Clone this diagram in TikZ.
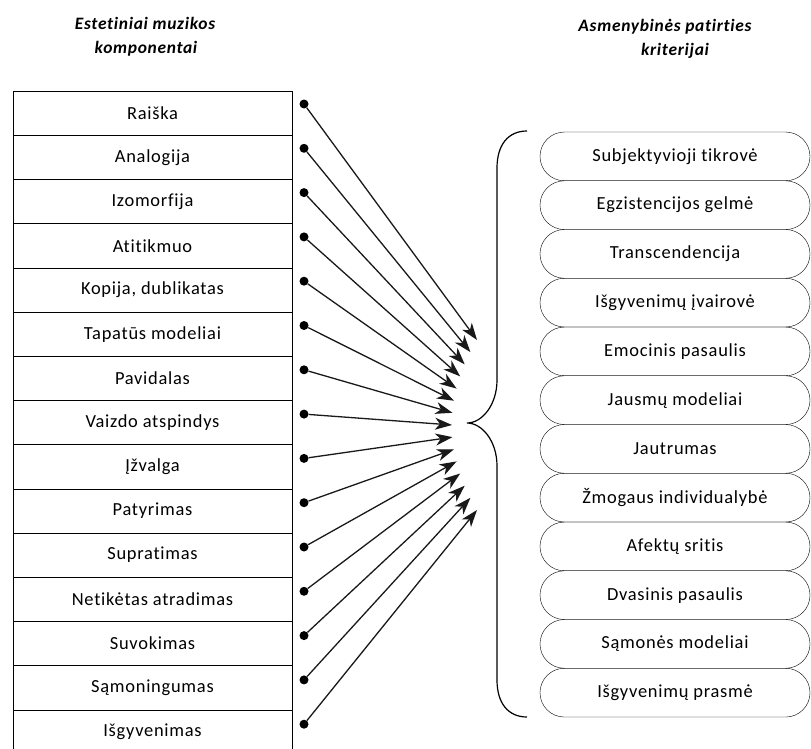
\documentclass[tikz,border=0pt]{standalone}
\usepackage{fontspec}
\setmainfont{Carlito}[LetterSpace=4, Ligatures=NoCommon]
\usetikzlibrary{positioning,arrows.meta,shapes.misc}

\tikzset{
  comp/.style = {draw, minimum width=279bp, minimum height=44.2bp, inner sep=0pt, outer sep=0pt, font=\fontsize{18.5}{20}\selectfont},
  krit/.style = {draw, rounded rectangle, minimum width=270bp, minimum height=48.75bp, inner sep=0pt, outer sep=0pt, font=\fontsize{18.5}{20}\selectfont},
  dot/.style = {circle, fill, inner sep=0pt, minimum size=9bp},
  arr/.style = {-{Stealth[length=17bp,width=12bp,inset=5bp]}, line width=1.3bp, black!90},
  title/.style = {font=\fontsize{17.5}{20}\selectfont\bfseries\itshape}
}

\begin{document}
\begin{tikzpicture}[x=1bp, y=-1bp]
\useasboundingbox (0,0) rectangle (811,749);

% titles
\node[title] (tl1) at (145,23) {Estetiniai muzikos};
\node[title] (tl2) at (146,49) {komponentai};
\node[title] (tr1) at (665,27) {Asmenybinės patirties};
\node[title] (tr2) at (675,51) {kriterijai};

% components
\node[comp] (k1) at (152.5,113.1) {Raiška};
\node[comp] (k2) [below=0bp of k1] {Analogija};
\node[comp] (k3) [below=0bp of k2] {Izomorfija};
\node[comp] (k4) [below=0bp of k3] {Atitikmuo};
\node[comp] (k5) [below=0bp of k4] {Kopija, dublikatas};
\node[comp] (k6) [below=0bp of k5] {Tapatūs modeliai};
\node[comp] (k7) [below=0bp of k6] {Pavidalas};
\node[comp] (k8) [below=0bp of k7] {Vaizdo atspindys};
\node[comp] (k9) [below=0bp of k8] {Įžvalga};
\node[comp] (k10) [below=0bp of k9] {Patyrimas};
\node[comp] (k11) [below=0bp of k10] {Supratimas};
\node[comp] (k12) [below=0bp of k11] {Netikėtas atradimas};
\node[comp] (k13) [below=0bp of k12] {Suvokimas};
\node[comp] (k14) [below=0bp of k13] {Sąmoningumas};
\node[comp] (k15) [below=0bp of k14] {Išgyvenimas};

% criteria
\node[krit] (c1) at (675,156.4) {Subjektyvioji tikrovė};
\node[krit] (c2) [below=0bp of c1] {Egzistencijos gelmė};
\node[krit] (c3) [below=0bp of c2] {Transcendencija};
\node[krit] (c4) [below=0bp of c3] {Išgyvenimų įvairovė};
\node[krit] (c5) [below=0bp of c4] {Emocinis pasaulis};
\node[krit] (c6) [below=0bp of c5] {Jausmų modeliai};
\node[krit] (c7) [below=0bp of c6] {Jautrumas};
\node[krit] (c8) [below=0bp of c7] {Žmogaus individualybė};
\node[krit] (c9) [below=0bp of c8] {Afektų sritis};
\node[krit] (c10) [below=0bp of c9] {Dvasinis pasaulis};
\node[krit] (c11) [below=0bp of c10] {Sąmonės modeliai};
\node[krit] (c12) [below=0bp of c11] {Išgyvenimų prasmė};

% dots
\node[dot] (d1) at (304,104) {};
\node[dot] (d2) at (304,148.3) {};
\node[dot] (d3) at (304,192.6) {};
\node[dot] (d4) at (304,236.9) {};
\node[dot] (d5) at (304,281.2) {};
\node[dot] (d6) at (304,325.5) {};
\node[dot] (d7) at (304,369.8) {};
\node[dot] (d8) at (304,414.1) {};
\node[dot] (d9) at (304,458.4) {};
\node[dot] (d10) at (304,502.7) {};
\node[dot] (d11) at (304,547) {};
\node[dot] (d12) at (304,591.3) {};
\node[dot] (d13) at (304,635.6) {};
\node[dot] (d14) at (304,679.9) {};
\node[dot] (d15) at (304,724.2) {};

% arrow ends
\coordinate (t1) at (477,340);
\coordinate (t2) at (470.4,352.1);
\coordinate (t3) at (464.7,364.3);
\coordinate (t4) at (460.2,376.4);
\coordinate (t5) at (456.6,388.6);
\coordinate (t6) at (454,400.7);
\coordinate (t7) at (452.5,412.8);
\coordinate (t8) at (452,425);
\coordinate (t9) at (452.5,437.1);
\coordinate (t10) at (454,449.3);
\coordinate (t11) at (456.6,461.4);
\coordinate (t12) at (460.2,473.5);
\coordinate (t13) at (464.7,485.7);
\coordinate (t14) at (470.4,497.8);
\coordinate (t15) at (477,510);

\draw[arr] (d1) -- (t1);
\draw[arr] (d2) -- (t2);
\draw[arr] (d3) -- (t3);
\draw[arr] (d4) -- (t4);
\draw[arr] (d5) -- (t5);
\draw[arr] (d6) -- (t6);
\draw[arr] (d7) -- (t7);
\draw[arr] (d8) -- (t8);
\draw[arr] (d9) -- (t9);
\draw[arr] (d10) -- (t10);
\draw[arr] (d11) -- (t11);
\draw[arr] (d12) -- (t12);
\draw[arr] (d13) -- (t13);
\draw[arr] (d14) -- (t14);
\draw[arr] (d15) -- (t15);

% brace
\draw[line width=1.2bp] (527,131) .. controls (508,131) and (497,145) .. (497,168)
  -- (497,380) .. controls (497,405) and (482,423) .. (467,423)
  .. controls (482,423) and (497,441) .. (497,466)
  -- (497,680) .. controls (497,703) and (508,717) .. (527,717);
\end{tikzpicture}
\end{document}
